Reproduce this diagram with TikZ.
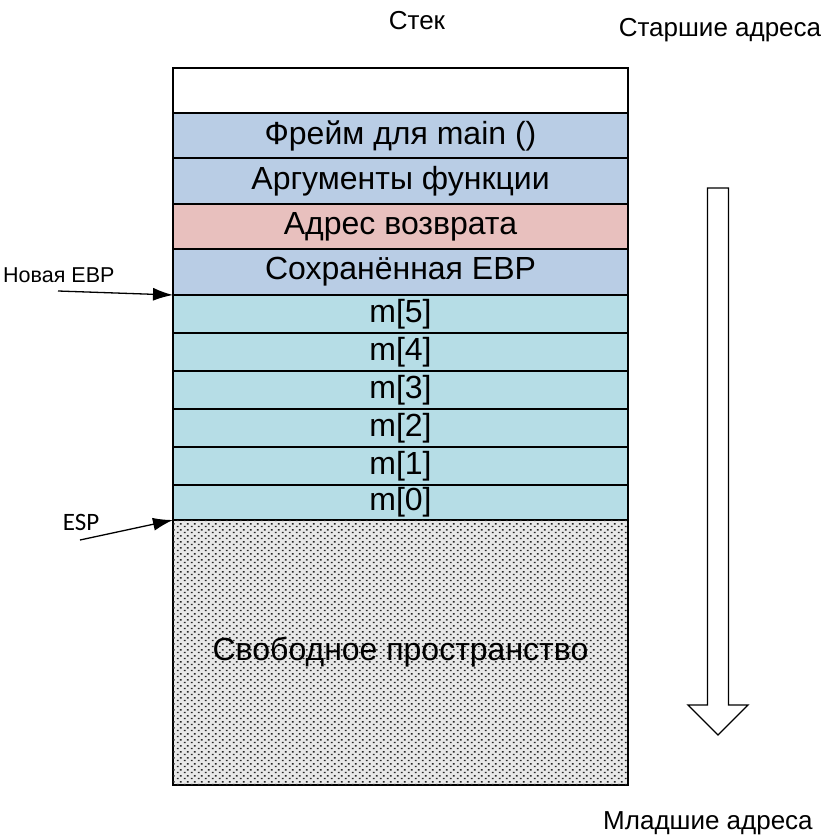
\documentclass[tikz,border=0pt]{standalone}
\usepackage{fontspec}
\setmainfont{Liberation Sans}
\newfontfamily\espfont{Carlito}
\usetikzlibrary{arrows.meta,positioning,patterns}
\definecolor{framebl}{HTML}{B9CDE5}
\definecolor{retpink}{HTML}{E8C0BE}
\definecolor{localteal}{HTML}{B6DDE6}
\pgfdeclarepatternformonly{freedots}{\pgfpointorigin}{\pgfpoint{6.5pt}{6pt}}{\pgfpoint{6.5pt}{6pt}}{
  \pgfpathrectangle{\pgfpoint{1pt}{1pt}}{\pgfpoint{1.8pt}{1.6pt}}
  \pgfpathrectangle{\pgfpoint{4.25pt}{4pt}}{\pgfpoint{1.8pt}{1.6pt}}
  \pgfusepath{fill}
}
\tikzset{
  stackcell/.style={
    draw=black,
    line width=1.3pt,
    minimum width=455pt,
    inner sep=0pt,
    outer sep=0pt,
    font=\fontsize{32}{35}\selectfont
  },
  sidelabel/.style={font=\fontsize{26}{28}\selectfont,inner sep=0pt},
  pointer/.style={-{Latex[length=20pt,width=13pt]},line width=1.3pt,draw=black}
}

\begin{document}
\begin{tikzpicture}[x=1pt,y=-1pt,node distance=0pt]
  \useasboundingbox (0,0) rectangle (824,840);

  \node[stackcell,minimum height=45pt,anchor=north] (topcell) at (400.5,68) {};
  \node[stackcell,fill=framebl,minimum height=45pt,below=of topcell] (mainframe) {
    Фрейм для main ()};
  \node[stackcell,fill=framebl,minimum height=46pt,below=of mainframe] (args) {
    Аргументы функции};
  \node[stackcell,fill=retpink,minimum height=45pt,below=of args] (retaddr) {
    Адрес возврата};
  \node[stackcell,fill=framebl,minimum height=46pt,below=of retaddr] (savedebp) {
    Сохранённая EBP};
  \node[stackcell,fill=localteal,minimum height=38pt,below=of savedebp] (mfive) {m[5]};
  \node[stackcell,fill=localteal,minimum height=38pt,below=of mfive] (mfour) {m[4]};
  \node[stackcell,fill=localteal,minimum height=38pt,below=of mfour] (mthree) {m[3]};
  \node[stackcell,fill=localteal,minimum height=38pt,below=of mthree] (mtwo) {m[2]};
  \node[stackcell,fill=localteal,minimum height=38pt,below=of mtwo] (mone) {m[1]};
  \node[stackcell,fill=localteal,minimum height=35pt,below=of mone] (mzero) {m[0]};
  \node[stackcell,fill=gray!18,minimum height=265pt,below=of mzero,
    postaction={pattern=freedots,pattern color=black!85}] (freespace) {
    Свободное пространство};

  \node[sidelabel] (stacktitle) at (417,21) {Стек};
  \node[sidelabel] (highaddr) at (720,30) {Старшие адреса};
  \node[sidelabel] (lowaddr) at (708,823) {Младшие адреса};
  \node[sidelabel,anchor=west,font=\fontsize{21.5}{24}\selectfont] (newebp) at (3,275) {Новая EBP};
  \node[sidelabel,font=\espfont\fontsize{25}{27}\selectfont] (esp) at (81,522) {ESP};

  \coordinate (ebptail) at (58,291);
  \coordinate (esptail) at (80,540);
  \draw[pointer] (ebptail) -- (savedebp.south west);
  \draw[pointer] (esptail) -- (mzero.south west);

  % direction of growth
  \draw[line width=1.3pt,fill=white] (707.5,188) -- (707.5,705) -- (688,705)
    -- (718,735) -- (748,705) -- (728.5,705) -- (728.5,188) -- cycle;
\end{tikzpicture}
\end{document}
